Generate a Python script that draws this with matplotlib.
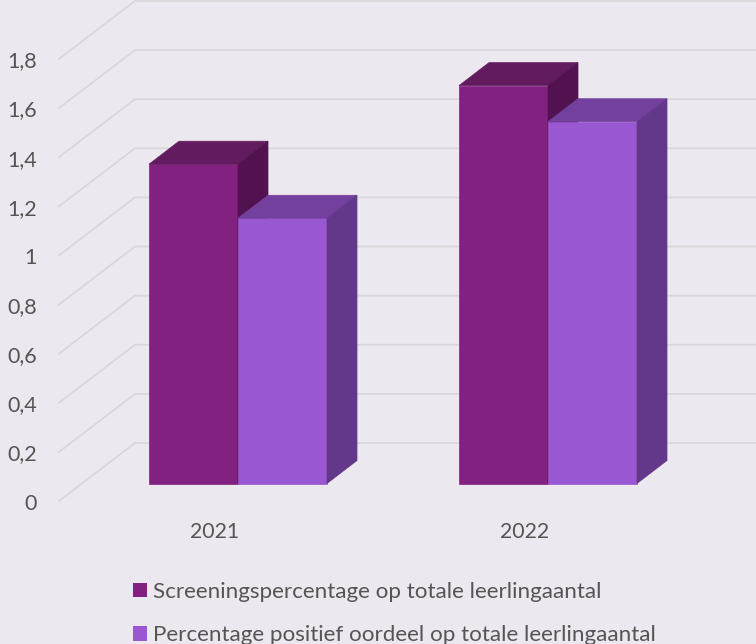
import matplotlib
matplotlib.use("Agg")
import matplotlib.pyplot as plt
from matplotlib.patches import Patch

years = ["2021", "2022"]
screening = [1.30, 1.62]
positief = [1.08, 1.473]
ticks = [0, 0.2, 0.4, 0.6, 0.8, 1, 1.2, 1.4, 1.6, 1.8]
names = ["Screeningspercentage op totale leerlingaantal",
         "Percentage positief oordeel op totale leerlingaantal"]

BG = "#ECE8EF"
GRID = "#D8D7D9"
TXT = "#555555"
DARK = ("#832180", "#631B60", "#52124F")    # front, top, side
LIGHT = ("#9A57D2", "#74409E", "#63378A")

# pixel scales of the picture
PX_X = 310.0
PX_Y = 245.6

plt.rcParams["font.family"] = ["Lato", "DejaVu Sans"]

fig = plt.figure(figsize=(7.56, 6.44), dpi=100, facecolor=BG)
ax = fig.add_axes([0, 0, 1, 1])
ax.set_xlim(-238 / PX_X, (756 - 238) / PX_X)
ax.set_ylim(-(644 - 501) / PX_Y, 501 / PX_Y)
ax.axis("off")

bar_w = 89 / PX_X
depth_x = 30 / PX_X
depth_y = 23 / PX_Y
lift = 17.5 / PX_Y   # bars stand a bit behind the front edge of the floor


def draw_bar(x, v, cols):
    """ Front, top and side faces of one 3d looking bar. """
    y0 = lift
    y1 = v + lift
    ax.fill([x, x + bar_w, x + bar_w, x], [y0, y0, y1, y1],
            color=cols[0], lw=0.5, zorder=3)
    ax.fill([x, x + bar_w, x + bar_w + depth_x, x + depth_x],
            [y1, y1, y1 + depth_y, y1 + depth_y],
            color=cols[1], lw=0.5, zorder=3)
    ax.fill([x + bar_w, x + bar_w + depth_x, x + bar_w + depth_x, x + bar_w],
            [y0, y0 + depth_y, y1 + depth_y, y1],
            color=cols[2], lw=0.5, zorder=3)


# Gridlines: diagonal on the side wall, then flat on the back wall
x_front = (59 - 238) / PX_X
x_back = (135 - 238) / PX_X
x_end = (756 - 238) / PX_X
rise = 58 / PX_Y
for t in ticks:
    ax.plot([x_front, x_back, x_end], [t, t + rise, t + rise],
            color=GRID, lw=1.3, zorder=1, clip_on=True)
    ax.text((37 - 238) / PX_X, t - 2.5 / PX_Y, str(t).replace(".", ","), ha="right",
            va="center", fontsize=15.5, color=TXT)

for i, year in enumerate(years):
    draw_bar(i - bar_w, screening[i], DARK)
    draw_bar(i, positief[i], LIGHT)
    ax.text(i - 23 / PX_X, -31 / PX_Y, year, ha="center", va="center",
            fontsize=15.3, color=TXT)

handles = [Patch(facecolor=DARK[0], label=names[0]),
           Patch(facecolor=LIGHT[0], label=names[1])]
ax.legend(handles=handles, loc="upper left", bbox_to_anchor=(133 / 756, 1 - 582 / 644),
          frameon=False, fontsize=16.1, labelcolor=TXT, handlelength=0.63,
          handleheight=0.63, handletextpad=0.27, labelspacing=1.05,
          borderpad=0, borderaxespad=0)

fig.savefig("out.png", dpi=100, facecolor=BG)
